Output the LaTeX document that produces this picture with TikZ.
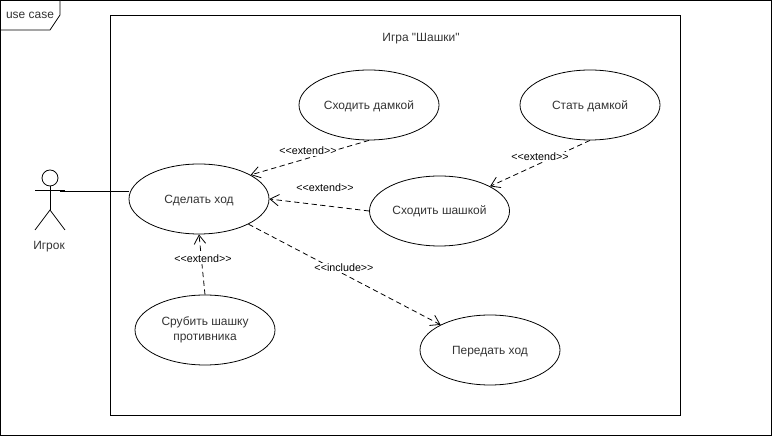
\documentclass[tikz,border=0pt]{standalone}
\usepackage{fontspec}
\setmainfont{Liberation Sans}[Ligatures=TeXOff]
\usetikzlibrary{arrows.meta,shapes.geometric}
\tikzset{usecase/.style={draw,ellipse,minimum width=2.8cm,minimum height=1.4cm,inner sep=0pt,align=center,font=\fontsize{6.8}{8.2}\selectfont,text=black!80}}
\tikzset{oneline/.style={text height=6.2pt,text depth=1.4pt}}
\tikzset{stereo/.style={fill=white,inner sep=0.5pt,font=\fontsize{6.1}{7}\selectfont}}
\tikzset{relation/.style={densely dashed,-{Straight Barb[length=5pt,width=6.5pt]}}}
\tikzset{plain/.style={font=\fontsize{6.8}{8.2}\selectfont,text=black!80,inner sep=0pt}}

\begin{document}
\begin{tikzpicture}[line width=0.45pt]
    \useasboundingbox (0,0) rectangle (15.44,8.72);
    % frames
    \draw (0.01,0.02) rectangle (15.42,8.71);
    \draw (2.2,0.42) rectangle (13.6,8.42);
    \draw[fill=white] (0.01,8.71) -- (1.2,8.71) -- (1.2,8.42) -- (1.0,8.12) -- (0.01,8.12) -- cycle;
    \node[plain] (frametitle) at (0.6,8.42) {use case};
    \node[plain] (systemtitle) at (8.42,7.95) {Игра "Шашки"};

    % the actor
    \draw (1,5.16) circle (0.16);
    \draw (0.7,4.92) -- (1.3,4.92);
    \draw (1,5) -- (1,4.52);
    \draw (0.7,4.12) -- (1,4.52) -- (1.3,4.12);
    \coordinate (hand) at (1.2,4.9);
    \node[plain] (actorname) at (0.98,3.79) {Игрок};

    % the use cases
    \node[usecase,oneline] (turn) at (3.98,4.74) {Сделать ход};
    \node[usecase,oneline] (kingmove) at (7.38,6.62) {Сходить дамкой};
    \node[usecase,oneline] (becomeking) at (11.8,6.62) {Стать дамкой};
    \node[usecase] (manmove) at (8.79,4.5) {Сходить шашкой};
    \node[usecase] (capture) at (4.1,2.12) {Срубить шашку\\противника};
    \node[usecase,oneline] (pass) at (9.8,1.72) {Передать ход};

    % the connectors
    \draw (hand) -- (hand -| turn.west);
    \draw[relation] (kingmove.south) -- (turn.25);
    \node[stereo] (label1) at (6.16,5.7) {<<extend>>};
    \draw[relation] (becomeking.south) -- (manmove.26);
    \node[stereo] (label2) at (10.8,5.58) {<<extend>>};
    \draw[relation] (manmove.west) -- (turn.east);
    \node[stereo] (label3) at (6.5,4.96) {<<extend>>};
    \draw[relation] (capture.north) -- (turn.south);
    \node[stereo] (label4) at (4.06,3.54) {<<extend>>};
    \draw[relation] (turn.-27) -- (pass.153);
    \node[stereo] (label5) at (6.88,3.36) {<<include>>};
\end{tikzpicture}
\end{document}
